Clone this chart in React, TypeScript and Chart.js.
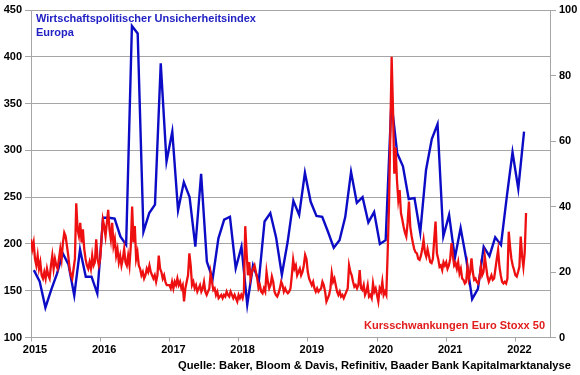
import React, { useEffect, useRef } from 'react';
import { Chart, registerables } from 'chart.js';

Chart.register(...registerables);

// Economic Policy Uncertainty Index Europe, monthly, Jan 2015 - Feb 2022
const epuEurope = [
  172, 160, 132, 151, 168, 190, 178, 145, 194, 165, 165, 147,
  228, 228, 227, 208, 199, 433, 425, 213, 233, 242, 393, 288,
  320, 236, 266, 250, 197, 275, 181, 163, 206, 226, 229, 174,
  197, 135, 177, 160, 224, 233, 207, 167, 202, 246, 231, 276,
  245, 230, 229, 213, 196, 204, 229, 277, 244, 250, 223, 234,
  200, 204, 352, 297, 283, 248, 249, 212, 279, 312, 328, 208,
  231, 185, 217, 183, 141, 152, 197, 187, 207, 199, 250, 298,
  259, 320,
];

// Euro Stoxx 50 volatility (VSTOXX), weekly
const vol2015 = [30, 27, 29, 24, 22, 25, 21, 23, 19, 18, 20, 18, 21, 19, 18, 22, 25, 21, 24, 22, 21, 24, 27, 24, 29, 32, 31, 28, 25, 21, 19, 18, 21, 24, 41, 33, 31, 35, 29, 33, 27, 24, 22, 21, 23, 21, 25, 22, 23, 30, 24, 22];
const vol2016 = [24, 30, 36, 34, 31, 35, 39, 33, 30, 35, 28, 30, 25, 27, 23, 25, 22, 24, 27, 23, 22, 25, 22, 28, 40, 29, 34, 24, 26, 22, 21, 19, 20, 18, 19, 21, 20, 22, 20, 19, 18, 19, 17, 19, 25, 21, 20, 18, 19, 17, 16, 16];
const vol2017 = [16, 15, 17, 15, 17, 16, 18, 16, 17, 15, 16, 11, 15, 17, 19, 25.7, 22, 16, 17, 15, 16, 14, 15, 16, 14, 15, 17, 14, 13, 14, 15, 19.6, 17, 14.5, 15, 13, 14, 12, 12.5, 13, 12, 13, 12.5, 14, 13, 12.5, 14, 13, 12, 13, 12, 11];
const vol2018 = [13, 12, 13, 12, 14, 34, 26, 19, 23, 18, 20, 21, 22, 20, 18, 15, 16, 14, 13.5, 15, 14, 20, 17, 15, 16, 18.6, 17, 14, 13, 12.5, 13.5, 15, 17, 16, 14, 15, 14, 13.5, 14, 15, 19, 23.7, 21, 22, 19, 20, 21, 19, 20, 22, 25.2, 24];
const vol2019 = [20, 18, 17, 16, 17, 15, 14, 15, 14, 14.5, 15, 17, 16, 14, 11, 12, 13, 15, 19.6, 17, 18, 16, 14, 13, 14, 12.5, 13, 12, 13, 14, 15, 22, 20, 19, 17, 15.5, 16, 15, 16, 20.6, 15, 14.5, 16, 13, 14, 16, 12.5, 13, 12, 16.5, 14, 15];
const vol2020 = [13, 11, 15, 14, 17, 13, 14, 13, 25.7, 40, 62, 85.7, 70, 50, 58, 48, 42, 45, 38, 36, 33.8, 32, 30.8, 35, 41.5, 33.8, 31, 28.8, 27, 26, 25.7, 24, 23.7, 25, 27, 29.8, 26, 24.7, 27, 25, 23, 22.7, 24, 30, 35.4, 25.7, 24, 21.6, 22, 20.6, 23, 22];
const vol2021 = [23, 21, 22, 24, 28.8, 25, 22, 22.7, 21, 23, 19.6, 21, 18, 17.6, 16.5, 17, 21.6, 18, 20, 24.2, 20, 17.6, 18, 17, 16.5, 18, 21.6, 19, 20, 24.7, 21.6, 18.6, 17, 18, 19, 17.6, 18, 21, 24, 26.7, 21.6, 19, 17, 16.5, 17, 16.5, 18, 32.3, 27.7, 24, 22, 20.6];
const vol2022 = [19, 18.6, 20, 21.6, 30.8, 25, 21.6, 26, 38];

const volYears = [2015, 2016, 2017, 2018, 2019, 2020, 2021, 2022];
const volSeries = [vol2015, vol2016, vol2017, vol2018, vol2019, vol2020, vol2021, vol2022];

const titleLines = ['Wirtschaftspolitischer Unsicherheitsindex', 'Europa'];
const volLabel = 'Kursschwankungen Euro Stoxx 50';
const sourceText = 'Quelle: Baker, Bloom & Davis, Refinitiv, Baader Bank Kapitalmarktanalyse';

const FONT = 'Arial, "Liberation Sans", sans-serif';
const GRID = '#a6a6a6';
const BLUE = '#0c0cc6';
const RED = '#ee1010';

const textPlugin = {
  id: 'texts',
  afterDraw(chart: any) {
    const ctx = chart.ctx;
    ctx.save();
    ctx.font = `bold 11px ${FONT}`;
    ctx.textBaseline = 'alphabetic';
    ctx.fillStyle = '#2222c4';
    ctx.textAlign = 'left';
    ctx.fillText(titleLines[0], 36, 22, 223);
    ctx.fillText(titleLines[1], 36, 35.5);
    ctx.fillStyle = '#e21b1b';
    ctx.textAlign = 'right';
    ctx.fillText(volLabel, 545, 328.5, 184);
    ctx.fillStyle = '#000';
    ctx.font = `bold 11.3px ${FONT}`;
    ctx.fillText(sourceText, 571, 369, 393);
    ctx.restore();
  },
};

export default function App() {
  const ref = useRef<HTMLCanvasElement>(null);
  useEffect(() => {
    document.body.style.margin = '0';
    const blueData = epuEurope.map((v, i) => ({ x: 2015 + (i + 0.5) / 12, y: v }));
    const redData: { x: number; y: number }[] = [];
    volSeries.forEach((arr, k) => {
      arr.forEach((v, w) => redData.push({ x: volYears[k] + w / 52, y: v }));
    });
    const tickFont = { family: FONT, size: 11, weight: 'bold' as const };
    const chart = new Chart(ref.current!, {
      type: 'line',
      data: {
        datasets: [
          { label: 'EPU', data: blueData, yAxisID: 'yL', borderColor: BLUE, borderWidth: 2.4, pointRadius: 0, tension: 0, order: 1 },
          { label: 'VSTOXX', data: redData, yAxisID: 'yR', borderColor: RED, borderWidth: 2.3, pointRadius: 0, tension: 0, order: 0 },
        ],
      },
      options: {
        animation: false,
        responsive: true,
        maintainAspectRatio: false,
        layout: { padding: { top: 10, left: 0, right: 0, bottom: 0 } },
        plugins: { legend: { display: false }, tooltip: { enabled: false } },
        scales: {
          x: {
            type: 'linear',
            min: 2015,
            max: 2022.5,
            afterFit: (s: any) => { s.height = 37.5; },
            ticks: {
              stepSize: 1,
              includeBounds: false,
              autoSkip: false,
              maxRotation: 0,
              labelOffset: 4,
              padding: 2,
              color: '#000',
              font: tickFont,
              callback: (v: any) => (Number.isInteger(v) ? String(v) : ''),
            },
            grid: { drawOnChartArea: false, tickLength: 4, color: GRID },
            border: { color: GRID },
          },
          yL: {
            position: 'left',
            min: 100,
            max: 450,
            afterFit: (s: any) => { s.width = 31; },
            ticks: { stepSize: 50, color: '#000', font: tickFont, padding: 3 },
            grid: { color: GRID, tickLength: 6 },
            border: { color: GRID },
          },
          yR: {
            position: 'right',
            min: 0,
            max: 100,
            afterFit: (s: any) => { s.width = 30; },
            ticks: { stepSize: 20, color: '#000', font: tickFont, padding: 3 },
            grid: { drawOnChartArea: false, tickLength: 6, color: GRID },
            border: { color: GRID },
          },
        },
      } as any,
      plugins: [textPlugin],
    });
    return () => chart.destroy();
  }, []);
  return (
    <div style={{ width: 580, height: 375, position: 'relative' }}>
      <canvas ref={ref} />
    </div>
  );
}
